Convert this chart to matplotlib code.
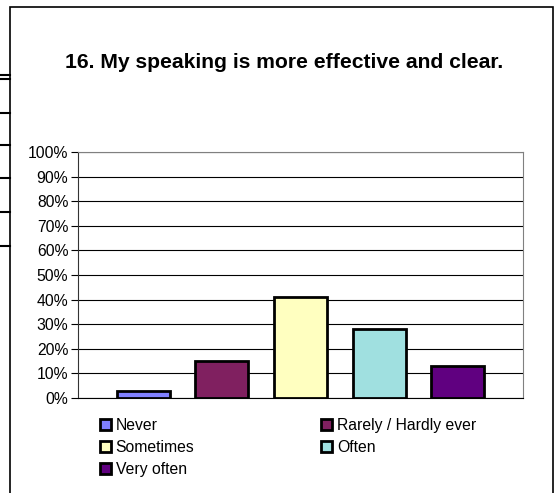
import matplotlib.pyplot as plt
from matplotlib.lines import Line2D
from matplotlib.patches import Rectangle

plt.rcParams['font.family'] = ['Liberation Sans', 'DejaVu Sans']

title = '16. My speaking is more effective and clear.'
answers = ['Never', 'Rarely / Hardly ever', 'Sometimes', 'Often', 'Very often']
shares = [3, 15, 41, 28, 13]
colors = ['#8080FF', '#802060', '#FFFFC0', '#A0E0E0', '#600080']
yticks = list(range(0, 101, 10))

W, H = 555, 493
fig = plt.figure(figsize=(W / 100, H / 100), dpi=100)

# axes in pixel coords: left 78, right 523, top 152, bottom 398
ax = fig.add_axes([78 / W, 1 - 398 / H, (523 - 78) / W, (398 - 152) / H])

for i, (name, val, col) in enumerate(zip(answers, shares, colors)):
    ax.bar(i, val, width=0.675, color=col, edgecolor='black', linewidth=2, label=name, zorder=3)

ax.set_xlim(-0.834, 4.834)
ax.set_ylim(0, 100)
ax.set_yticks(yticks)
ax.set_yticklabels([f'{t}%' for t in yticks], fontsize=11.3)
ax.set_xticks([])
ax.yaxis.grid(True, color='black', linewidth=0.8, zorder=0)
ax.tick_params(axis='y', direction='out', length=5, width=0.8, pad=2)
for s in ['top', 'right']:
    ax.spines[s].set_color('#808080')
ax.spines['left'].set_color('#333333')
ax.spines['bottom'].set_color('black')

fig.text(284 / W, 1 - 62 / H, title, ha='center', va='center', fontsize=15.2, fontweight='bold')

handles, labels = ax.get_legend_handles_labels()
# reorder so that rows read: Never | Rarely, Sometimes | Often, Very often
order = [0, 2, 4, 1, 3]
leg = fig.legend([handles[k] for k in order], [labels[k] for k in order],
                 loc='upper left', bbox_to_anchor=(92 / W, 1 - 410 / H), ncol=2,
                 frameon=False, fontsize=11.3, handlelength=0.7, handleheight=0.7,
                 handletextpad=0.3, columnspacing=8.1, labelspacing=0.45, borderpad=0)

# chart frame
fig.add_artist(Rectangle((10 / W, -0.05), (553 - 10) / W, 1 - 7 / H + 0.05,
                         transform=fig.transFigure, fill=False, edgecolor='black', linewidth=1.2))

# stray table lines at the left edge
for y in [75, 79, 113, 145, 178, 212, 246]:
    fig.add_artist(Line2D([0, 10 / W], [1 - y / H, 1 - y / H], transform=fig.transFigure,
                          color='black', linewidth=1.5))

fig.savefig('out.png', dpi=100)
